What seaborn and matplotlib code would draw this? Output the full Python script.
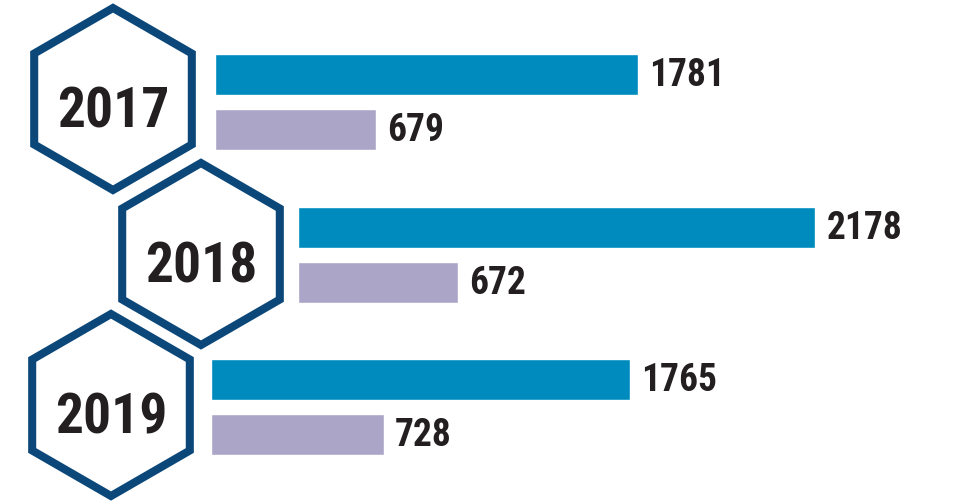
import matplotlib

matplotlib.use("Agg")
import matplotlib.pyplot as plt
import pandas as pd
import seaborn as sns
from matplotlib import font_manager as fm
from matplotlib.patches import RegularPolygon

# data
years = ["2017", "2018", "2019"]
series = ["first", "second"]
first_values = [1781, 2178, 1765]
second_values = [679, 672, 728]

# look
BLUE = "#008BBF"
PURPLE = "#ABA6C8"
NAVY = "#0B4779"
INK = "#231F20"
W, H = 958, 502
PX_PER_UNIT = 0.2376

# layout in pixels: hexagon centre, bar start, top of the first bar row
hex_centres = [(113, 100), (201, 255), (111, 406)]
bar_starts = [215, 298, 211]
row_tops = [48, 201, 353]
ROW_PITCH = 55


def narrow_bold_font():
    # the original uses a condensed grotesque; take the closest bold narrow face on hand
    prefs = ["Liberation Sans Narrow", "Roboto Condensed", "Open Sans Condensed",
             "Noto Sans", "DejaVu Sans", "Roboto", "Open Sans", "Lato", "Inter"]
    found = {}
    for f in fm.fontManager.ttflist:
        path = f.fname
        if "Italic" in path or "Oblique" in path:
            continue
        tag = (f.name + " " + path).lower()
        narrow = ("narrow" in tag or "condensed" in tag or "cond" in tag
                  or str(f.stretch) in ("condensed", "semi-condensed", "extra-condensed"))
        bold = (f.weight in ("bold", 700) or "bold" in path.lower()) and "semibold" not in path.lower() \
            and "extrabold" not in path.lower()
        if narrow and bold:
            found.setdefault(f.name, path)
    for name in prefs:
        if name in found:
            return fm.FontProperties(fname=found[name])
    if found:
        return fm.FontProperties(fname=next(iter(found.values())))
    return fm.FontProperties(family="Roboto", weight="bold")


sns.set_style("white")
plt.rcParams["font.family"] = ["DejaVu Sans"]
label_font = narrow_bold_font()

df = pd.DataFrame(
    {
        "year": [y for y in years for _ in series],
        "series": series * len(years),
        "value": [v for pair in zip(first_values, second_values) for v in pair],
    }
)

fig = plt.figure(figsize=(W / 100, H / 100), dpi=100)

# hexagons drawn on a pixel-space overlay
bg = fig.add_axes([0, 0, 1, 1])
bg.set_xlim(0, W)
bg.set_ylim(H, 0)
bg.set_aspect("equal")
bg.axis("off")
for year, (cx, cy) in zip(years, hex_centres):
    hexagon = RegularPolygon(
        (cx, cy), numVertices=6, radius=91, orientation=0,
        facecolor="white", edgecolor=NAVY, linewidth=5.8, joinstyle="miter",
    )
    bg.add_patch(hexagon)
    bg.text(cx, cy + 28, year, ha="center", va="baseline",
            fontproperties=label_font, fontsize=40, color=INK)

for year, x0, top in zip(years, bar_starts, row_tops):
    sub = df[df["year"] == year]
    width_px = W - x0
    ax = fig.add_axes([x0 / W, 1 - (top + 2 * ROW_PITCH) / H, width_px / W, 2 * ROW_PITCH / H])
    sns.barplot(
        data=sub, x="value", y="series", hue="series", order=series,
        palette=[BLUE, PURPLE], orient="h", width=0.745, saturation=1,
        legend=False, ax=ax,
    )
    ax.set_xlim(0, width_px / PX_PER_UNIT)
    ax.set_ylim(1.5, -0.5)
    for container in ax.containers:
        ax.bar_label(container, fmt="%d", padding=8, fontproperties=label_font,
                     fontsize=27, color=INK)
    ax.axis("off")

fig.savefig("out.png", dpi=100, facecolor="white")
